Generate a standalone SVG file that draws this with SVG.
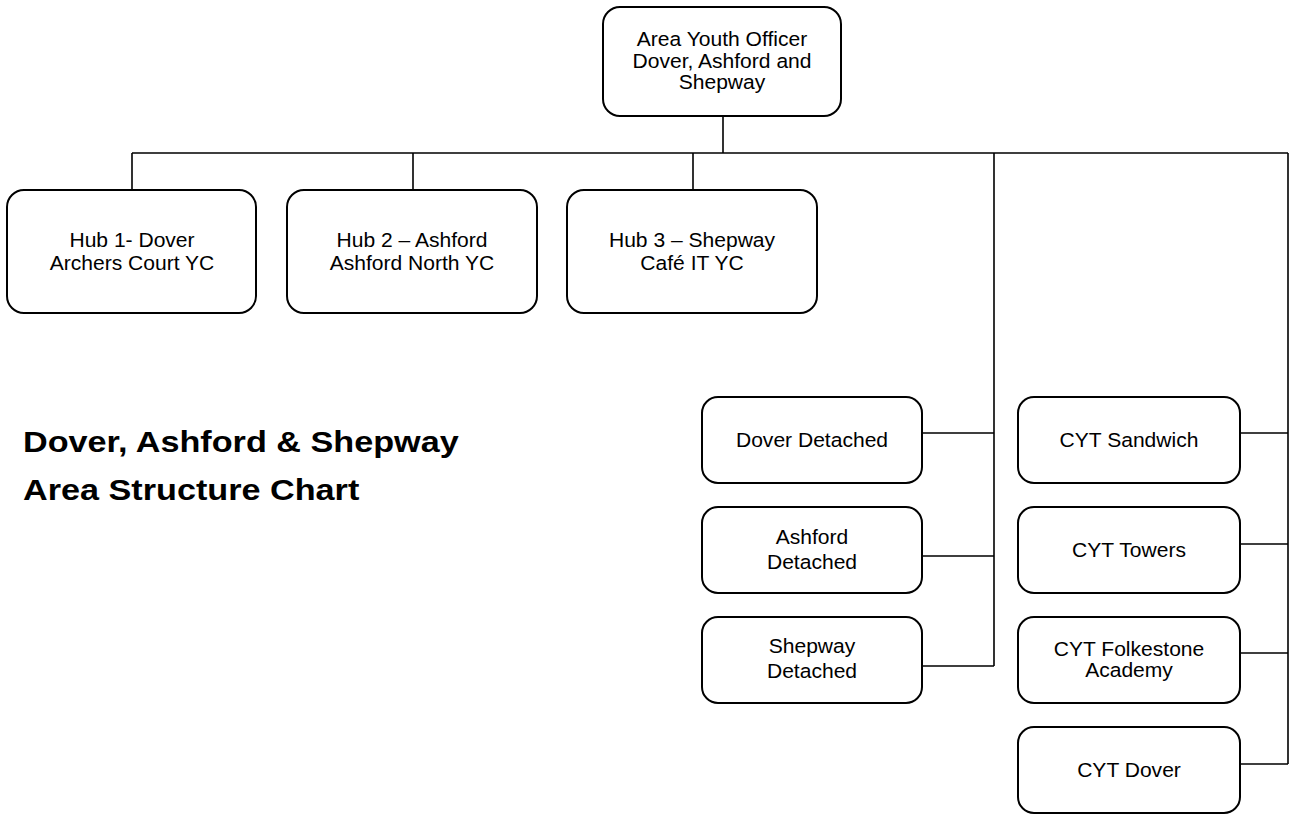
<svg xmlns="http://www.w3.org/2000/svg" width="1291" height="816" viewBox="0 0 1291 816">
<style>
.box{fill:#fff;stroke:#000;stroke-width:2}
.t{font-family:"Liberation Sans",Arial,sans-serif;font-size:19.5px;fill:#000;text-anchor:middle}
.title{font-family:"Liberation Sans",Arial,sans-serif;font-size:30px;font-weight:bold;fill:#000}
.c{fill:none;stroke:#000;stroke-width:1.6}
</style>
<rect width="1291" height="816" fill="#fff"/>
<g id="connectors">
<path class="c" d="M723,116V153M132,153H1288M132,153V190M413,153V190M693,153V190"/>
<path class="c" d="M994,153V666M922,433H994M922,556H994M922,666H994"/>
<path class="c" d="M1288,153V764M1240,433H1288M1240,544H1288M1240,653H1288M1240,764H1288"/>
</g>
<g id="aysdas">
<rect class="box" x="603" y="7" width="238" height="109" rx="17"/>
<text class="t" transform="translate(722,0) scale(1.08,1)"><tspan x="0" y="46">Area Youth Officer</tspan><tspan x="0" y="68">Dover, Ashford and</tspan><tspan x="0" y="89">Shepway</tspan></text>
</g>
<g id="hub1">
<rect class="box" x="7" y="190" width="249" height="123" rx="17"/>
<text class="t" transform="translate(132,0) scale(1.08,1)"><tspan x="0" y="247">Hub 1- Dover</tspan><tspan x="0" y="270">Archers Court YC</tspan></text>
</g>
<g id="hub2">
<rect class="box" x="287" y="190" width="250" height="123" rx="17"/>
<text class="t" transform="translate(412,0) scale(1.08,1)"><tspan x="0" y="247">Hub 2 – Ashford</tspan><tspan x="0" y="270">Ashford North YC</tspan></text>
</g>
<g id="hub3">
<rect class="box" x="567" y="190" width="250" height="123" rx="17"/>
<text class="t" transform="translate(692,0) scale(1.08,1)"><tspan x="0" y="247">Hub 3 – Shepway</tspan><tspan x="0" y="270">Café IT YC</tspan></text>
</g>
<g id="title">
<text class="title" transform="translate(23,0) scale(1.14,1)"><tspan x="0" y="452">Dover, Ashford &amp; Shepway</tspan><tspan x="0" y="500">Area Structure Chart</tspan></text>
</g>
<g id="dover-detached">
<rect class="box" x="702" y="397" width="220" height="86" rx="16"/>
<text class="t" transform="translate(812,0) scale(1.08,1)"><tspan x="0" y="447">Dover Detached</tspan></text>
</g>
<g id="ashford-detached">
<rect class="box" x="702" y="507" width="220" height="86" rx="16"/>
<text class="t" transform="translate(812,0) scale(1.08,1)"><tspan x="0" y="544">Ashford</tspan><tspan x="0" y="569">Detached</tspan></text>
</g>
<g id="shepway-detached">
<rect class="box" x="702" y="617" width="220" height="86" rx="16"/>
<text class="t" transform="translate(812,0) scale(1.08,1)"><tspan x="0" y="653">Shepway</tspan><tspan x="0" y="678">Detached</tspan></text>
</g>
<g id="cyt-sandwich">
<rect class="box" x="1018" y="397" width="222" height="86" rx="16"/>
<text class="t" transform="translate(1129,0) scale(1.08,1)"><tspan x="0" y="447">CYT Sandwich</tspan></text>
</g>
<g id="cyt-towers">
<rect class="box" x="1018" y="507" width="222" height="86" rx="16"/>
<text class="t" transform="translate(1129,0) scale(1.08,1)"><tspan x="0" y="557">CYT Towers</tspan></text>
</g>
<g id="cyt-folkestone">
<rect class="box" x="1018" y="617" width="222" height="86" rx="16"/>
<text class="t" transform="translate(1129,0) scale(1.08,1)"><tspan x="0" y="656">CYT Folkestone</tspan><tspan x="0" y="677">Academy</tspan></text>
</g>
<g id="cyt-dover">
<rect class="box" x="1018" y="727" width="222" height="86" rx="16"/>
<text class="t" transform="translate(1129,0) scale(1.08,1)"><tspan x="0" y="777">CYT Dover</tspan></text>
</g>
</svg>
